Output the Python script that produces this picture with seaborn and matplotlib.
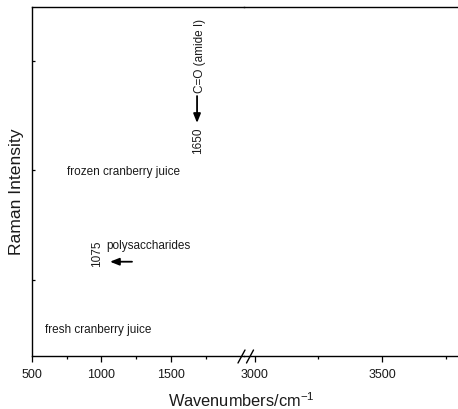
import matplotlib.pyplot as plt
import seaborn as sns
from matplotlib.lines import Line2D

# data
peak_wavenumbers = ["1650", "1075"]
peak_assignments = ["C=O (amide I)", "polysaccharides"]
sample_names     = ["frozen cranberry juice", "fresh cranberry juice"]

left_major  = [500, 1000, 1500]
left_minor  = [750, 1250, 1750]
right_major = [3000, 3500]
right_minor = [3250, 3750]
y_ticks     = [1, 2, 3]

LEFT_XLIM  = (500, 2024)
RIGHT_XLIM = (2957, 3799)
YLIM       = (0.306, 3.493)

# style
sns.set_theme(style="ticks")
plt.rcParams["font.family"] = ["Liberation Sans", "DejaVu Sans"]
plt.rcParams["mathtext.fontset"] = "custom"
plt.rcParams["mathtext.rm"] = "Liberation Sans"
plt.rcParams["mathtext.default"] = "regular"
TXT = "#1a1a1a"

W, H = 458, 410
bottom_px, top_px = 357, 8
x0_px, brk_px = 31.7, 244

fig = plt.figure(figsize=(W / 100, H / 100), dpi=100)
ax1 = fig.add_axes([x0_px / W, (H - bottom_px) / H,
                    (brk_px - x0_px) / W, (bottom_px - top_px) / H])
ax2 = fig.add_axes([brk_px / W, (H - bottom_px) / H,
                    (W - brk_px) / W, (bottom_px - top_px) / H])

for ax in (ax1, ax2):
    ax.set_ylim(*YLIM)
    ax.patch.set_alpha(0)
    for s in ax.spines.values():
        s.set_color("black")
        s.set_linewidth(1.0)
    ax.tick_params(axis="x", which="major", direction="out", length=4.5,
                   width=0.9, color="black", labelsize=9, labelcolor=TXT, pad=4)
    ax.tick_params(axis="x", which="minor", direction="out", length=2.5,
                   width=0.9, color="black")

ax1.set_xlim(*LEFT_XLIM)
ax1.set_xticks(left_major)
ax1.set_xticks(left_minor, minor=True)
ax1.set_yticks(y_ticks)
ax1.set_yticklabels([])
ax1.tick_params(axis="y", direction="in", length=2.5, width=0.9, color="black")
sns.despine(ax=ax1, right=True, top=False)

ax2.set_xlim(*RIGHT_XLIM)
ax2.set_xticks(right_major)
ax2.set_xticks(right_minor, minor=True)
ax2.set_yticks([])
sns.despine(ax=ax2, left=True, right=True, top=False)

# annotations
fs = 8.5
ax1.text(1708, 3.055, peak_assignments[0], rotation=90, ha="center",
         va="center", fontsize=fs, color=TXT)
ax1.annotate("", xy=(1687, 2.434), xytext=(1687, 2.68),
             arrowprops=dict(arrowstyle="-|>,head_length=0.45,head_width=0.18",
                             color="black", lw=1.3, shrinkA=0, shrinkB=0))
ax1.text(1697, 2.279, peak_wavenumbers[0], rotation=90, ha="center",
         va="center", fontsize=fs, color=TXT)

ax1.text(753, 1.995, sample_names[0], ha="left", va="center",
         fontsize=fs, color=TXT)

ax1.text(969, 1.247, peak_wavenumbers[1], rotation=90, ha="center",
         va="center", fontsize=fs, color=TXT)
ax1.text(1033, 1.32, peak_assignments[1], ha="left", va="center",
         fontsize=fs, color=TXT)
ax1.annotate("", xy=(1062, 1.167), xytext=(1220, 1.167),
             arrowprops=dict(arrowstyle="-|>,head_length=0.45,head_width=0.18",
                             color="black", lw=1.3, shrinkA=0, shrinkB=0))

ax1.text(595, 0.553, sample_names[1], ha="left", va="center",
         fontsize=fs, color=TXT)

# axis break marks
def px(x, y):
    return x / W, 1 - y / H

for xa, xb in [(238, 245), (246.5, 253.5)]:
    (fx0, fy0), (fx1, fy1) = px(xa, 364), px(xb, 351)
    fig.add_artist(Line2D([fx0, fx1], [fy0, fy1], color="black", lw=1.0))

# axis labels
fig.text(241 / W, 1 - 407 / H, "Wavenumbers/cm$^{-1}$", ha="center",
         va="baseline", fontsize=11.8, color=TXT)
fig.text(17 / W, 1 - 192 / H, "Raman Intensity", rotation=90, ha="center",
         va="center", fontsize=12.6, color=TXT)

fig.savefig("out.png", dpi=100)
